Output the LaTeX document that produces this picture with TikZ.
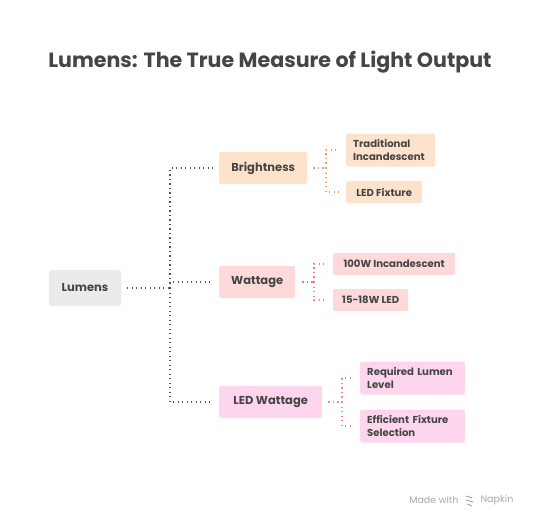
\documentclass[tikz,border=0pt]{standalone}
\usepackage{fontspec}
\setmainfont{Poppins}
\usepackage{xcolor}
\usetikzlibrary{arrows.meta,positioning,calc}

\definecolor{inkgray}{HTML}{454545}
\definecolor{rootfill}{HTML}{EBEBEB}
\definecolor{brightfill}{HTML}{FDE3CB}
\definecolor{brightline}{HTML}{F5A05A}
\definecolor{wattfill}{HTML}{FDD9D9}
\definecolor{wattline}{HTML}{F07A7A}
\definecolor{ledfill}{HTML}{FDD5EC}
\definecolor{ledline}{HTML}{F07CC2}
\definecolor{rootline}{HTML}{555555}
\definecolor{markgray}{HTML}{A8A8A8}

\begin{document}
\begin{tikzpicture}[
  x=1pt, y=-1pt,
  treebox/.style={rounded corners=2pt, text=inkgray, align=left,
    font=\bfseries\fontsize{11.5}{13}\selectfont, inner xsep=0pt, minimum height=32pt},
  leafbox/.style={rounded corners=2pt, text=inkgray, align=left, anchor=west,
    font=\bfseries\fontsize{10.1}{12.5}\selectfont, inner xsep=0pt, inner ysep=4pt, minimum height=22pt},
  twoline/.style={text width=#1-14pt, minimum height=33pt, inner xsep=7pt},
  dotlink/.style={line width=1.3pt, dash pattern=on 1.2pt off 3.3pt},
  rootlink/.style={dotlink, rootline},
]
\useasboundingbox (0,0) rectangle (539,528);

% ===== Title =====
\node[text=inkgray, font=\bfseries\fontsize{20.6}{24}\selectfont] (title) at (270,62)
  {Lumens: The True Measure of Light Output};

% ===== Root and first level =====
\node[treebox, fill=rootfill, minimum width=72pt, minimum height=36pt] (lumens) at (85,288) {Lumens};
\node[treebox, fill=brightfill, anchor=west, minimum width=88pt] (bright) at (219,168) {Brightness};
\node[treebox, fill=wattfill, anchor=west, minimum width=76pt] (watt) at (219,282) {Wattage};
\node[treebox, fill=ledfill, anchor=west, minimum width=103pt] (ledw) at (219,402) {LED Wattage};

\coordinate (bus) at (170,288);
\draw[rootlink, shorten <=6pt] (lumens.east) -- (bus);
\foreach \c in {bright,watt,ledw}
  \draw[rootlink, shorten >=6pt] (bus) |- (\c.west);

% ===== Brightness leaves =====
\node[leafbox, fill=brightfill, twoline=89pt] (tradinc) at (346,150) {Traditional\\Incandescent};
\node[leafbox, fill=brightfill, minimum width=76pt] (ledfix) at (346,192) {LED Fixture};
\coordinate (bbus) at (326,168);
\draw[dotlink, brightline, shorten <=6pt] (bright.east) -- (bbus);
\foreach \c in {tradinc,ledfix}
  \draw[dotlink, brightline, shorten >=7pt] (bbus) |- (\c.west);

% ===== Wattage leaves =====
\node[leafbox, fill=wattfill, minimum width=122pt] (hundred) at (333,264) {100W Incandescent};
\node[leafbox, fill=wattfill, minimum width=75pt] (fifteen) at (333,300) {15-18W LED};
\coordinate (wbus) at (314,282);
\draw[dotlink, wattline, shorten <=7pt] (watt.east) -- (wbus);
\foreach \c in {hundred,fifteen}
  \draw[dotlink, wattline, shorten >=6pt] (wbus) |- (\c.west);

% ===== LED Wattage leaves =====
\node[leafbox, fill=ledfill, twoline=105pt] (reqlum) at (360,378) {Required Lumen\\Level};
\node[leafbox, fill=ledfill, twoline=105pt] (efffix) at (360,426) {Efficient Fixture\\Selection};
\coordinate (lbus) at (342,402);
\draw[dotlink, ledline, shorten <=6pt] (ledw.east) -- (lbus);
\foreach \c in {reqlum,efffix}
  \draw[dotlink, ledline, shorten >=6pt] (lbus) |- (\c.west);

% ===== Footer mark =====
\node[text=markgray, font=\fontsize{9.5}{11}\selectfont, anchor=east] (madewith) at (462,500) {Made with};
\node[text=markgray, font=\fontsize{9.5}{11}\selectfont, anchor=west] (napkin) at (477,500) {Napkin};
\draw[markgray, line width=1pt] ($(madewith.east)+(4,-4)$) -- ++(6,2) ++(-6,2) -- ++(7,2) ++(-6,2) -- ++(5,2);

\end{tikzpicture}
\end{document}
